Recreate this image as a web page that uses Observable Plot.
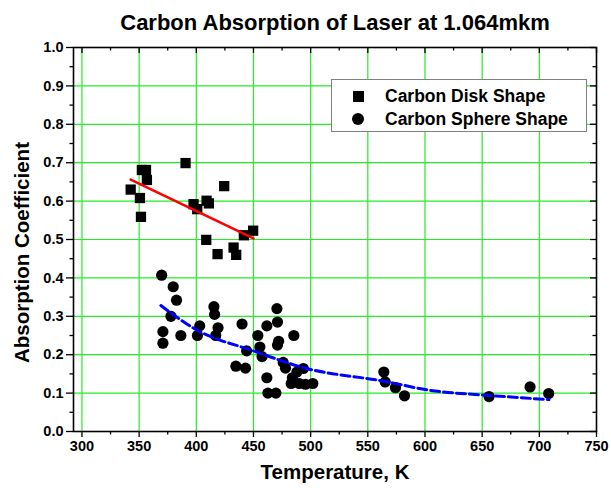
<!DOCTYPE html>
<html>
<head>
<meta charset="utf-8">
<script src="https://cdn.jsdelivr.net/npm/d3@7"></script>
<script src="https://cdn.jsdelivr.net/npm/@observablehq/plot@0.6"></script>
<style>
  html, body { margin: 0; padding: 0; background: #fff; }
  #wrap { position: relative; width: 611px; height: 488px; font-family: "Liberation Sans", Arial, sans-serif; }
  #legend { position: absolute; left: 331px; top: 79px; width: 254px; height: 51px; border: 1.5px solid #808080; background: #fff; box-sizing: content-box; }
  .row { position: absolute; left: 0; height: 22px; font-weight: bold; font-size: 17.5px; line-height: 22px; }
  .row .lab { position: absolute; left: 53px; white-space: nowrap; }
  .sq { position: absolute; left: 21px; top: 5.5px; width: 11px; height: 11px; background: #000; }
  .ci { position: absolute; left: 20px; top: 5px; width: 12px; height: 12px; border-radius: 50%; background: #000; }
</style>
</head>
<body>
<div id="wrap"></div>
<script>
// Carbon Disk Shape (squares)
const diskT = [342.6, 350.7, 351.6, 352.4, 356.0, 356.8, 390.6, 397.6, 400.8, 409.0, 411.0, 408.7, 424.4, 418.6, 432.6, 434.9, 441.6, 449.7];
const diskA = [0.630, 0.608, 0.559, 0.681, 0.681, 0.655, 0.699, 0.592, 0.579, 0.601, 0.594, 0.499, 0.639, 0.462, 0.479, 0.460, 0.511, 0.523];

// Carbon Sphere Shape (circles)
const sphereT = [369.7, 379.8, 382.7, 370.8, 370.8, 377.8, 386.5, 401, 403, 415.4, 416, 417, 419, 434.6, 440, 444, 443, 453.8, 455.6, 457.5, 461.7, 462.6, 461.7, 470.5, 471, 472, 471, 469.6, 476, 478, 483, 485.3, 484, 488, 490, 493.6, 495.5, 501.9, 564, 565.2, 574.2, 582.1, 656, 691.9, 708.2];
const sphereA = [0.407, 0.377, 0.342, 0.26, 0.23, 0.30, 0.25, 0.25, 0.275, 0.325, 0.305, 0.25, 0.27, 0.17, 0.28, 0.21, 0.165, 0.25, 0.22, 0.195, 0.14, 0.10, 0.275, 0.32, 0.285, 0.235, 0.225, 0.10, 0.18, 0.165, 0.125, 0.25, 0.14, 0.155, 0.125, 0.164, 0.123, 0.125, 0.155, 0.129, 0.114, 0.093, 0.091, 0.116, 0.099];

// Fit lines
const diskFitT = [342.6, 450];
const diskFitA = [0.656, 0.503];
const sphereFitT = [369, 400, 450, 494, 564, 605, 656, 708.5];
const sphereFitA = [0.328, 0.265, 0.21, 0.166, 0.131, 0.107, 0.094, 0.083];

// Tick values
const xMajor = [300, 350, 400, 450, 500, 550, 600, 650, 700, 750];
const xMinor = [325, 375, 425, 475, 525, 575, 625, 675, 725];
const yMajor = [0, 0.1, 0.2, 0.3, 0.4, 0.5, 0.6, 0.7, 0.8, 0.9, 1.0];
const yMinor = [0.05, 0.15, 0.25, 0.35, 0.45, 0.55, 0.65, 0.75, 0.85, 0.95];
const xGrid = [300, 350, 400, 450, 500, 550, 600, 650, 700];
const yGrid = [0.1, 0.2, 0.3, 0.4, 0.5, 0.6, 0.7, 0.8, 0.9];

const disk = diskT.map((t, i) => ({T: t, A: diskA[i]}));
const sphere = sphereT.map((t, i) => ({T: t, A: sphereA[i]}));
const diskFit = diskFitT.map((t, i) => ({T: t, A: diskFitA[i]}));
const sphereFit = sphereFitT.map((t, i) => ({T: t, A: sphereFitA[i]}));

const H = 488, mT = 47, mB = 57;
const fh = H - mT - mB;
const W = 611, mL = 73, mR = 15;
const fw = W - mL - mR;

const green = "#22ee22";
const font = "'Liberation Sans', Arial, sans-serif";

const chart = Plot.plot({
  width: W, height: H,
  marginLeft: mL, marginRight: mR, marginTop: mT, marginBottom: mB,
  x: {domain: [292.6, 750]},
  y: {domain: [0, 1]},
  style: {fontFamily: font, color: "#000", background: "#fff"},
  marks: [
    Plot.gridX(xGrid, {stroke: green, strokeOpacity: 1, strokeWidth: 1.2}),
    Plot.gridY(yGrid, {stroke: green, strokeOpacity: 1, strokeWidth: 1.2}),
    // bottom axis (outward ticks)
    Plot.axisX(xMajor, {anchor: "bottom", tickSize: 6, tickPadding: 3, tickFormat: d => String(d), fontSize: 14.5, fontWeight: "bold", label: null, strokeWidth: 1.3}),
    Plot.axisX(xMinor, {anchor: "bottom", tickSize: 3.5, text: null, label: null, strokeWidth: 1.3}),
    // left axis (outward ticks)
    Plot.axisY(yMajor, {anchor: "left", tickSize: 7, tickPadding: 3, tickFormat: d3.format(".1f"), fontSize: 14.5, fontWeight: "bold", label: null, strokeWidth: 1.3}),
    Plot.axisY(yMinor, {anchor: "left", tickSize: 3.5, text: null, label: null, strokeWidth: 1.3}),
    // top mirrored ticks (inward)
    Plot.ruleX(xMajor, {insetBottom: fh - 6, stroke: "#000", strokeWidth: 1.3}),
    Plot.ruleX(xMinor, {insetBottom: fh - 3.5, stroke: "#000", strokeWidth: 1.3}),
    // right mirrored ticks (inward)
    Plot.ruleY(yMajor, {insetLeft: fw - 6, stroke: "#000", strokeWidth: 1.3}),
    Plot.ruleY(yMinor, {insetLeft: fw - 3.5, stroke: "#000", strokeWidth: 1.3}),
    Plot.frame({stroke: "#000", strokeWidth: 1.6}),
    // data
    Plot.dot(sphere, {x: "T", y: "A", r: 5.6, fill: "#000", stroke: "none"}),
    Plot.dot(disk, {x: "T", y: "A", r: 5.8, symbol: "square", fill: "#000", stroke: "none"}),
    Plot.line(diskFit, {x: "T", y: "A", stroke: "#ff0000", strokeWidth: 2.6}),
    Plot.line(sphereFit, {x: "T", y: "A", stroke: "#0000ff", strokeWidth: 3, strokeDasharray: "9,4", curve: "monotone-x"}),
    // titles
    Plot.text(["Carbon Absorption of Laser at 1.064mkm"], {frameAnchor: "top", dy: -33, fontSize: 22, fontWeight: "bold", fill: "#000"}),
    Plot.text(["Temperature, K"], {frameAnchor: "bottom", dy: 47, fontSize: 20.5, fontWeight: "bold", fill: "#000"}),
    Plot.text(["Absorption Coefficient"], {frameAnchor: "left", dx: -51, dy: 13, rotate: -90, textAnchor: "middle", fontSize: 20.5, fontWeight: "bold", fill: "#000"})
  ]
});

const wrap = document.getElementById("wrap");
wrap.appendChild(chart);
const legend = document.createElement("div");
legend.id = "legend";
legend.innerHTML = `
  <div class="row" style="top:5px"><div class="sq"></div><span class="lab">Carbon Disk Shape</span></div>
  <div class="row" style="top:28px"><div class="ci"></div><span class="lab">Carbon Sphere Shape</span></div>`;
wrap.appendChild(legend);
</script>
</body>
</html>
